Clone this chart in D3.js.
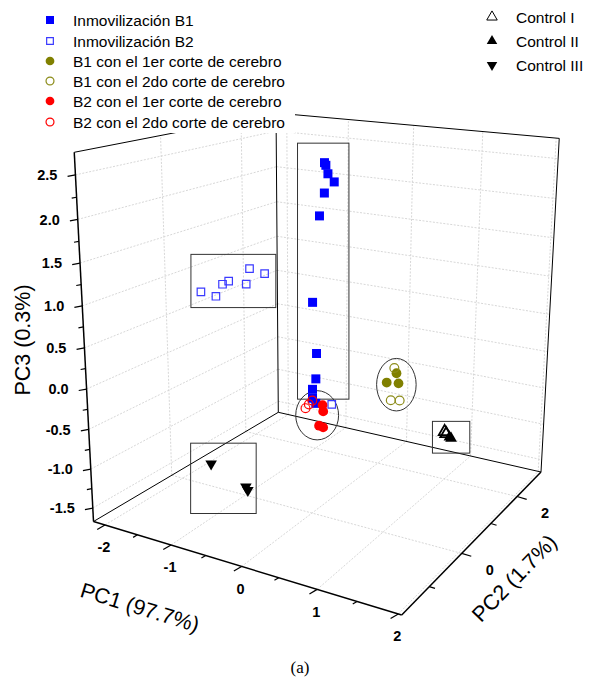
<!DOCTYPE html>
<html><head><meta charset="utf-8">
<script src="https://cdn.jsdelivr.net/npm/d3@7"></script>
<style>
body{margin:0;background:#fff}
text{font-family:"Liberation Sans",Arial,sans-serif}
</style></head>
<body><div id="chart"></div>
<script>
// 3D PCA scatter (PC1 / PC2 / PC3), drawn with a small perspective projection
let svgWidth = 592, svgHeight = 685;

// scores
let b1PC1 = [-0.35, -0.33, -0.30, -0.21, -0.35, -0.42, -0.52, -0.46, -0.47, -0.52, -0.52, -0.47];
let b1PC2 = [1.0, 1.0, 1.0, 1.0, 1.0, 1.0, 1.0, 1.0, 1.0, 1.0, 1.0, 1.0];
let b1PC3 = [2.47, 2.44, 2.34, 2.25, 2.10, 1.81, 0.70, 0.04, -0.30, -0.45, -0.57, -0.63];

let b2PC1 = [-1.30, -1.08, -0.98, -0.89, -0.64, -0.59, -0.38, 0.53];
let b2PC2 = [-0.5, -0.5, -0.5, -0.5, -0.5, -0.5, -0.5, -0.5];
let b2PC3 = [1.03, 1.01, 1.17, 1.22, 1.22, 1.41, 1.38, -0.02];

let b1c1PC1 = [0.79, 0.92, 0.95];
let b1c1PC2 = [0.5, 0.5, 0.5];
let b1c1PC3 = [0.02, 0.16, 0.04];

let b1c2PC1 = [0.89, 0.85, 0.97];
let b1c2PC2 = [0.5, 0.5, 0.5];
let b1c2PC3 = [0.22, -0.19, -0.17];

let b2c1PC1 = [-0.11, -0.10, -0.16, -0.10];
let b2c1PC2 = [0.5, 0.5, 0.5, 0.5];
let b2c1PC3 = [-0.44, -0.52, -0.72, -0.73];

let b2c2PC1 = [-0.26, -0.31, -0.36];
let b2c2PC2 = [0.5, 0.5, 0.5];
let b2c2PC3 = [-0.41, -0.47, -0.53];

let ctl1PC1 = [1.97, 1.99];
let ctl1PC2 = [-0.5, -0.5];
let ctl1PC3 = [-0.05, -0.07];

let ctl2PC1 = [2.05, 2.03];
let ctl2PC2 = [-0.5, -0.5];
let ctl2PC3 = [-0.11, -0.10];

let ctl3PC1 = [-1.53, -0.99, -0.96];
let ctl3PC2 = [0.0, 0.0, 0.0];
let ctl3PC3 = [-1.37, -1.56, -1.60];

// axis ticks
let pc1Major = [-2, -1, 0, 1, 2];
let pc1Minor = [-1.5, -0.5, 0.5, 1.5];
let pc2Major = [0, 2];
let pc2Minor = [-1, 1];
let pc3Major = [-1.5, -1.0, -0.5, 0.0, 0.5, 1.0, 1.5, 2.0, 2.5];
let pc3Minor = [-1.25, -0.75, -0.25, 0.25, 0.75, 1.25, 1.75, 2.25];

let series = [
  {key: "B1", label: "Inmovilización B1", pc1: b1PC1, pc2: b1PC2, pc3: b1PC3, shape: d3.symbolSquare, size: 81, fill: "#0000ff", stroke: "none"},
  {key: "B2", label: "Inmovilización B2", pc1: b2PC1, pc2: b2PC2, pc3: b2PC3, shape: d3.symbolSquare, size: 56, fill: "none", stroke: "#3a3aff"},
  {key: "B1c1", label: "B1 con el 1er corte de cerebro", pc1: b1c1PC1, pc2: b1c1PC2, pc3: b1c1PC3, shape: d3.symbolCircle, size: 75, fill: "#808000", stroke: "none"},
  {key: "B1c2", label: "B1 con el 2do corte de cerebro", pc1: b1c2PC1, pc2: b1c2PC2, pc3: b1c2PC3, shape: d3.symbolCircle, size: 62, fill: "none", stroke: "#8c8c1a"},
  {key: "B2c1", label: "B2 con el 1er corte de cerebro", pc1: b2c1PC1, pc2: b2c1PC2, pc3: b2c1PC3, shape: d3.symbolCircle, size: 75, fill: "#ff0000", stroke: "none"},
  {key: "B2c2", label: "B2 con el 2do corte de cerebro", pc1: b2c2PC1, pc2: b2c2PC2, pc3: b2c2PC3, shape: d3.symbolCircle, size: 62, fill: "none", stroke: "#ff0000"},
  {key: "C1", label: "Control I", pc1: ctl1PC1, pc2: ctl1PC2, pc3: ctl1PC3, shape: d3.symbolTriangle, size: 60, fill: "none", stroke: "#000", up: true},
  {key: "C2", label: "Control II", pc1: ctl2PC1, pc2: ctl2PC2, pc3: ctl2PC3, shape: d3.symbolTriangle, size: 60, fill: "#000", stroke: "none", up: true},
  {key: "C3", label: "Control III", pc1: ctl3PC1, pc2: ctl3PC2, pc3: ctl3PC3, shape: d3.symbolTriangle, size: 58, fill: "#000", stroke: "none", up: false}
];

// screen corners of the unit box (u = PC1, v = PC2, w = PC3)
let floorCorners = [[0, 0, 93.5, 521.5], [1, 0, 401.7, 615], [1, 1, 541, 472], [0, 1, 278.3, 412.3]];
let topCorners = [[0, 0, 73.3, 150.5], [0, 1, 277, 117], [1, 1, 559, 135.5]];

function solve(A, b) {
  let n = b.length, M = A.map((r, i) => [...r, b[i]]);
  for (let c = 0; c < n; c++) {
    let p = c;
    for (let r = c + 1; r < n; r++) if (Math.abs(M[r][c]) > Math.abs(M[p][c])) p = r;
    [M[c], M[p]] = [M[p], M[c]];
    for (let r = 0; r < n; r++) {
      if (r === c) continue;
      let f = M[r][c] / M[c][c];
      for (let k = c; k <= n; k++) M[r][k] -= f * M[c][k];
    }
  }
  return M.map((r, i) => r[n] / r[i]);
}

// floor homography, then the vertical column from the top corners (least squares)
let A = [], bb = [];
floorCorners.forEach(([u, v, x, y]) => {
  A.push([u, v, 1, 0, 0, 0, -u * x, -v * x]); bb.push(x);
  A.push([0, 0, 0, u, v, 1, -u * y, -v * y]); bb.push(y);
});
let hm = solve(A, bb);
let c1 = [hm[0], hm[3], hm[6]], c2 = [hm[1], hm[4], hm[7]], c3 = [hm[2], hm[5], 1];
let N = [[0, 0, 0], [0, 0, 0], [0, 0, 0]], nb = [0, 0, 0];
topCorners.forEach(([u, v, x, y]) => {
  let q = [0, 1, 2].map(i => u * c1[i] + v * c2[i] + c3[i]);
  [[[1, 0, -x], x * q[2] - q[0]], [[0, 1, -y], y * q[2] - q[1]]].forEach(([row, rhs]) => {
    for (let i = 0; i < 3; i++) { nb[i] += row[i] * rhs; for (let j = 0; j < 3; j++) N[i][j] += row[i] * row[j]; }
  });
});
let c4 = solve(N, nb);

function project(u, v, w) {
  let r = [0, 1, 2].map(i => u * c1[i] + v * c2[i] + c3[i] + w * c4[i]);
  return [r[0] / r[2], r[1] / r[2]];
}

let xScale = d3.scaleLinear().domain([-2.18, 2.04]).range([0, 1]);
let yScale = d3.scaleLinear().domain([-1.77, 3.0]).range([0, 1]);
let zScale = d3.scaleLinear().domain([-1.675, 2.75]).range([0, 1]);

let svg = d3.select("#chart").append("svg")
  .attr("width", svgWidth).attr("height", svgHeight);

let line = d3.line();
function seg(g, a, b) {
  return g.append("path").attr("d", line([project(...a), project(...b)]));
}

// grid lines on the three back planes
let grid = svg.append("g").attr("stroke", "#cdcdcd").attr("stroke-width", 0.8)
  .attr("stroke-dasharray", "2,1.5").attr("fill", "none");
pc1Major.forEach(d => {
  let u = xScale(d);
  seg(grid, [u, 0, 0], [u, 1, 0]);
  seg(grid, [u, 1, 0], [u, 1, 1]);
});
pc2Major.forEach(d => {
  let v = yScale(d);
  seg(grid, [0, v, 0], [1, v, 0]);
  seg(grid, [0, v, 0], [0, v, 1]);
});
pc3Major.forEach(d => {
  let w = zScale(d);
  seg(grid, [0, 0, w], [0, 1, w]);
  seg(grid, [0, 1, w], [1, 1, w]);
});

// box frame
let frame = svg.append("g").attr("stroke", "#000").attr("stroke-width", 1).attr("fill", "none");
seg(frame, [0, 0, 1], [0, 1, 1]);
seg(frame, [0, 1, 1], [1, 1, 1]);
seg(frame, [0, 1, 0], [0, 1, 1]);
seg(frame, [1, 1, 0], [1, 1, 1]);
seg(frame, [0, 0, 0], [0, 1, 0]);
seg(frame, [0, 1, 0], [1, 1, 0]);

// axes
let axes = svg.append("g").attr("stroke", "#000").attr("stroke-width", 1.5).attr("fill", "none");
seg(axes, [0, 0, 0], [1, 0, 0]);
seg(axes, [1, 0, 0], [1, 1, 0]);
seg(axes, [0, 0, 0], [0, 0, 1]);

let fmt3 = d => d3.format(".1f")(d).replace("\u2212", "-");
let fmtInt = d => String(d);

function ticks(values, at, dir, len) {
  let n = Math.hypot(dir[0], dir[1]);
  values.forEach(d => {
    let p = at(d);
    axes.append("path").attr("stroke-width", 1.2)
      .attr("d", line([p, [p[0] + dir[0] / n * len, p[1] + dir[1] / n * len]]));
  });
}
let atPC1 = d => project(xScale(d), 0, 0);
let atPC2 = d => project(1, yScale(d), 0);
let atPC3 = d => project(0, 0, zScale(d));
ticks(pc1Major, atPC1, [-0.86, 0.51], 9);
ticks(pc1Minor, atPC1, [-0.86, 0.51], 5);
ticks(pc2Major, atPC2, [0.96, 0.29], 10);
ticks(pc2Minor, atPC2, [0.96, 0.29], 6);
ticks(pc3Major, atPC3, [-1, 0.19], 8);
ticks(pc3Minor, atPC3, [-1, 0.19], 5);

let tickLabels = svg.append("g").attr("font-size", 14.5).attr("font-weight", "bold").attr("fill", "#000");
pc3Major.forEach(d => {
  let p = atPC3(d);
  tickLabels.append("text").attr("x", p[0] - 18).attr("y", p[1]).attr("dy", "0.36em")
    .attr("text-anchor", "end").text(fmt3(d));
});
pc1Major.forEach(d => {
  let p = atPC1(d);
  tickLabels.append("text").attr("x", p[0] - 1).attr("y", p[1] + 22).attr("dy", "0.36em")
    .attr("text-anchor", "middle").text(fmtInt(d));
});
pc2Major.forEach(d => {
  let p = atPC2(d);
  tickLabels.append("text").attr("x", p[0] + 28).attr("y", p[1] + 16).attr("dy", "0.36em")
    .attr("text-anchor", "middle").text(fmtInt(d));
});

// axis titles
function title(txt, x, y, rot) {
  svg.append("text").attr("transform", `translate(${x},${y}) rotate(${rot})`)
    .attr("text-anchor", "middle").attr("dy", "0.36em").attr("font-size", 21.5).text(txt);
}
title("PC3 (0.3%)", 22, 340, -90);
title("PC1 (97.7%)", 140, 607, 17);
title("PC2 (1.7%)", 514, 578, -46);

// point positions on screen
let pos = {};
series.forEach(s => {
  pos[s.key] = s.pc1.map((d, i) => project(xScale(d), yScale(s.pc2[i]), zScale(s.pc3[i])));
});

// group annotations: boxes and ellipses around clusters
let notes = [
  {keys: ["B1"], filter: () => true, shape: "rect", pad: [15, 19.5, 14.7, -4.2]},
  {keys: ["B2"], filter: (s, i) => s.pc3[i] > 0.5, shape: "rect", pad: [10, 14.3, 11.2, 11.3]},
  {keys: ["B2c1", "B2c2"], filter: () => true, shape: "ellipse", pad: [2.8, 1.3, 12.6, 11.2]},
  {keys: ["B1c1", "B1c2"], filter: () => true, shape: "ellipse", pad: [3.2, 0.45, 13.3, 10]},
  {keys: ["C3"], filter: () => true, shape: "rect", pad: [20.5, 20.7, 8.3, 23.2]},
  {keys: ["C1", "C2"], filter: () => true, shape: "rect", pad: [12.2, 10.3, 18.7, 14.8]}
];
let noteG = svg.append("g").attr("fill", "none").attr("stroke", "#333").attr("stroke-width", 1);
notes.forEach(n => {
  let pts = [];
  series.filter(s => n.keys.includes(s.key)).forEach(s => {
    pos[s.key].forEach((p, i) => { if (n.filter(s, i)) pts.push(p); });
  });
  let [x0, x1] = d3.extent(pts, p => p[0]);
  let [y0, y1] = d3.extent(pts, p => p[1]);
  if (n.shape === "rect") {
    noteG.append("rect")
      .attr("x", x0 - n.pad[0]).attr("y", y0 - n.pad[1])
      .attr("width", x1 - x0 + n.pad[0] + n.pad[2])
      .attr("height", y1 - y0 + n.pad[1] + n.pad[3]);
  } else {
    noteG.append("ellipse")
      .attr("cx", (x0 + x1) / 2 + n.pad[0]).attr("cy", (y0 + y1) / 2 + n.pad[1])
      .attr("rx", (x1 - x0) / 2 + n.pad[2]).attr("ry", (y1 - y0) / 2 + n.pad[3]);
  }
});

// data points
let symbol = d3.symbol();
series.forEach(s => {
  svg.append("g").selectAll("path")
    .data(pos[s.key])
    .join("path")
    .attr("transform", d => `translate(${d[0]},${d[1]})${s.up === false ? " rotate(180)" : ""}`)
    .attr("d", symbol.type(s.shape).size(s.size)())
    .attr("fill", s.fill)
    .attr("stroke", s.stroke)
    .attr("stroke-width", s.key === "C1" ? 1.8 : 1.2);
});

// legends
svg.append("rect").attr("x", 0).attr("y", 0).attr("width", 295).attr("height", 133).attr("fill", "#fff");
let legend = svg.append("g");
let leftRows = [20, 41, 61, 81, 101, 122];
series.slice(0, 6).forEach((s, i) => {
  legend.append("path")
    .attr("transform", `translate(50,${leftRows[i]})`)
    .attr("d", d3.symbol().type(s.shape).size(s.size * 0.8)())
    .attr("fill", s.fill).attr("stroke", s.stroke).attr("stroke-width", 1.2);
  legend.append("text").attr("x", 73).attr("y", leftRows[i]).attr("dy", "0.36em")
    .attr("font-size", 15.5).text(s.label);
});
let rightRows = [17, 41, 65];
series.slice(6).forEach((s, i) => {
  legend.append("path")
    .attr("transform", `translate(492,${rightRows[i]})${s.up === false ? " rotate(180)" : ""}`)
    .attr("d", d3.symbol().type(s.shape).size(48)())
    .attr("fill", s.fill).attr("stroke", s.stroke).attr("stroke-width", 1);
  legend.append("text").attr("x", 516).attr("y", rightRows[i]).attr("dy", "0.36em")
    .attr("font-size", 15.5).text(s.label);
});

// caption
svg.append("text").attr("x", 300).attr("y", 667).attr("dy", "0.36em")
  .attr("text-anchor", "middle").attr("font-size", 17)
  .style("font-family", "'Liberation Serif', 'DejaVu Serif', serif").text("(a)");
</script>
</body></html>
